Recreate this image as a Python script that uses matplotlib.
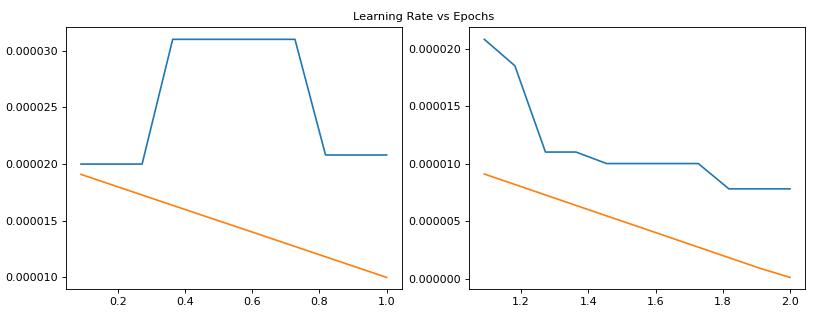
import numpy as np
import matplotlib
matplotlib.use('Agg')
import matplotlib.pyplot as plt
from matplotlib.ticker import FormatStrFormatter

# epochs sampled every 1/11 of an epoch
epochs_1 = [1/11, 2/11, 3/11, 4/11, 5/11, 6/11, 7/11, 8/11, 9/11, 10/11, 1.0]
epochs_2 = [12/11, 13/11, 14/11, 15/11, 16/11, 17/11, 18/11, 19/11, 20/11, 21/11, 2.0]

lr_found_1 = [0.0000200, 0.0000200, 0.0000200, 0.0000310, 0.0000310, 0.0000310,
              0.0000310, 0.0000310, 0.0000208, 0.0000208, 0.0000208]
lr_sched_1 = [0.00001909, 0.00001818, 0.00001727, 0.00001636, 0.00001545, 0.00001455,
              0.00001364, 0.00001273, 0.00001182, 0.00001091, 0.00001000]

lr_found_2 = [0.0000208, 0.0000185, 0.0000110, 0.0000110, 0.0000100, 0.0000100,
              0.0000100, 0.0000100, 0.0000078, 0.0000078, 0.0000078]
lr_sched_2 = [0.00000909, 0.00000818, 0.00000727, 0.00000636, 0.00000545, 0.00000455,
              0.00000364, 0.00000273, 0.00000182, 0.00000091, 0.00000010]

fig, axes = plt.subplots(1, 2, figsize=(822/80, 319/80), dpi=80)
fig.subplots_adjust(left=0.0799, right=0.9797, top=0.914, bottom=0.093, wspace=0.1994)

axes[0].plot(epochs_1, lr_found_1)
axes[0].plot(epochs_1, lr_sched_1)
axes[1].plot(epochs_2, lr_found_2)
axes[1].plot(epochs_2, lr_sched_2)

for ax in axes:
    ax.yaxis.set_major_formatter(FormatStrFormatter('%.6f'))

fig.suptitle("Learning Rate vs Epochs", x=0.515, y=0.962, fontsize=10.3)
fig.savefig("out.png", dpi=80)
